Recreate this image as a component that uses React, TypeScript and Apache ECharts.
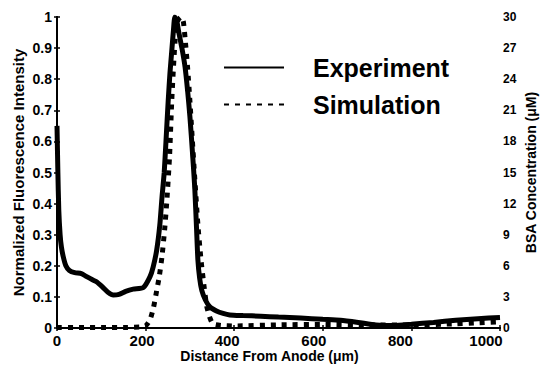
import React, { useEffect, useRef } from "react";
import * as echarts from "echarts";

// Experiment: normalized fluorescence intensity (left axis)
const expX = [0, 2, 4, 7, 10, 14, 20, 28, 40, 55, 67, 80, 90, 104, 115, 127, 140, 155, 172, 195, 210, 217, 225, 232, 237, 242, 246, 251, 255, 259, 263, 266, 270, 275, 282, 289, 295, 300, 306, 311, 315, 318, 322, 327, 335, 345, 360, 375, 390, 420, 460, 500, 550, 600, 640, 680, 720, 760, 800, 850, 900, 950, 1000];
const expY = [0.65, 0.5, 0.38, 0.3, 0.26, 0.23, 0.2, 0.185, 0.178, 0.175, 0.165, 0.155, 0.148, 0.13, 0.115, 0.106, 0.108, 0.118, 0.125, 0.13, 0.165, 0.196, 0.25, 0.33, 0.42, 0.5, 0.6, 0.73, 0.82, 0.89, 0.96, 1.0, 0.99, 0.95, 0.9, 0.84, 0.76, 0.68, 0.56, 0.45, 0.32, 0.22, 0.16, 0.12, 0.09, 0.068, 0.055, 0.047, 0.042, 0.04, 0.038, 0.035, 0.032, 0.028, 0.025, 0.018, 0.01, 0.008, 0.012, 0.018, 0.025, 0.03, 0.034];

// Simulation: BSA concentration in µM (right axis)
const simX = [0, 50, 100, 150, 190, 200, 210, 218, 225, 231, 237, 243, 248, 254, 259, 264, 268, 273, 280, 285, 289, 295, 300, 305, 311, 318, 325, 332, 338, 345, 352, 370, 400, 500, 600, 700, 800, 900, 950, 1000];
const simY = [0.05, 0.05, 0.05, 0.05, 0.1, 0.2, 0.8, 2, 3.6, 5, 6.9, 9.5, 12.3, 16.5, 21.9, 26, 28.5, 29.7, 30, 29.6, 28, 25, 21.9, 18.5, 14.4, 10, 6.6, 4, 2.1, 1, 0.4, 0.25, 0.2, 0.3, 0.35, 0.3, 0.3, 0.4, 0.5, 0.6];

const xTicks = [0, 200, 400, 600, 800, 1000];
const xLabelShift = [0, 7, 14, 18, 22, 28];

const FONT = "'Liberation Sans', Arial, sans-serif";

export default function App() {
  const ref = useRef<HTMLDivElement>(null);
  useEffect(() => {
    document.body.style.margin = "0";
    document.body.style.overflow = "hidden";
    if (!ref.current) return;
    const chart = echarts.init(ref.current, undefined, { renderer: "svg", width: 540, height: 366 });
    const rich: Record<string, any> = {};
    xTicks.forEach((t, i) => {
      rich["t" + i] = {
        fontFamily: FONT,
        fontWeight: "bold",
        fontSize: 15,
        color: "#000",
        padding: [0, xLabelShift[i], 0, 0],
      };
    });
    const axisLine = { show: true, lineStyle: { color: "#000", width: 2 } };
    const tick = { show: true, inside: true, length: 3, lineStyle: { color: "#000", width: 1.5 } };
    chart.setOption({
      animation: false,
      backgroundColor: "#fff",
      textStyle: { fontFamily: FONT },
      grid: { left: 57, right: 40, top: 17, bottom: 38, containLabel: false, outerBoundsMode: "none" },
      legend: {
        orient: "vertical",
        left: 218,
        top: 50,
        padding: 5,
        itemWidth: 60,
        itemHeight: 24,
        itemGap: 12,
        data: ["Experiment", "Simulation"],
        itemStyle: { opacity: 0, borderWidth: 0 },
        textStyle: {
          fontFamily: FONT,
          fontWeight: "bold",
          fontSize: 25,
          lineHeight: 24,
          color: "#000",
          padding: [0, 0, 0, 24],
        },
      },
      xAxis: [
        {
          type: "value",
          min: 0,
          max: 1000,
          interval: 200,
          position: "bottom",
          name: "Distance From Anode (μm)",
          nameLocation: "middle",
          nameGap: 20,
          nameMoveOverlap: false,
          nameTextStyle: {
            fontFamily: FONT,
            fontWeight: "bold",
            fontSize: 14,
            lineHeight: 15,
            color: "#000",
            padding: [0, 18, 0, 0],
          },
          axisLine,
          axisTick: tick,
          splitLine: { show: false },
          axisLabel: {
            margin: 5,
            formatter: (v: number) => {
              const i = xTicks.indexOf(v);
              return "{t" + i + "|" + v + "}";
            },
            rich,
          },
        },
        {
          type: "value",
          min: 0,
          max: 1000,
          interval: 200,
          position: "top",
          axisLine,
          axisTick: tick,
          axisLabel: { show: false },
          splitLine: { show: false },
        },
      ],
      yAxis: [
        {
          type: "value",
          min: 0,
          max: 1,
          interval: 0.1,
          position: "left",
          name: "Normalized Fluorescence Intensity",
          nameLocation: "middle",
          nameGap: 31,
          nameMoveOverlap: false,
          nameRotate: 90,
          nameTextStyle: { fontFamily: FONT, fontWeight: "bold", fontSize: 15, color: "#000" },
          axisLine,
          axisTick: tick,
          splitLine: { show: false },
          axisLabel: {
            margin: 5,
            fontFamily: FONT,
            fontWeight: "bold",
            fontSize: 14,
            color: "#000",
          },
        },
        {
          type: "value",
          min: 0,
          max: 30,
          interval: 3,
          position: "right",
          name: "BSA Concentration (μM)",
          nameLocation: "middle",
          nameGap: 23,
          nameMoveOverlap: false,
          nameRotate: 90,
          nameTextStyle: { fontFamily: FONT, fontWeight: "bold", fontSize: 14, lineHeight: 15, color: "#000" },
          axisLine,
          axisTick: tick,
          splitLine: { show: false },
          axisLabel: {
            margin: 3,
            fontFamily: FONT,
            fontWeight: "bold",
            fontSize: 12,
            color: "#000",
          },
        },
      ],
      series: [
        {
          name: "Experiment",
          type: "line",
          xAxisIndex: 0,
          yAxisIndex: 0,
          showSymbol: false,
          symbol: "none",
          smooth: 0.2,
          data: expX.map((x, i) => [x, expY[i]]),
          lineStyle: { color: "#000", width: 5 },
          itemStyle: { color: "#000" },
        },
        {
          name: "Simulation",
          type: "line",
          xAxisIndex: 0,
          yAxisIndex: 1,
          showSymbol: false,
          symbol: "none",
          smooth: 0.2,
          data: simX.map((x, i) => [x, simY[i]]),
          lineStyle: { color: "#000", width: 5, type: [5, 6], cap: "butt" },
          itemStyle: { color: "#000" },
        },
      ],
    });
    return () => chart.dispose();
  }, []);
  return <div ref={ref} style={{ width: 540, height: 366, overflow: "hidden" }} />;
}
